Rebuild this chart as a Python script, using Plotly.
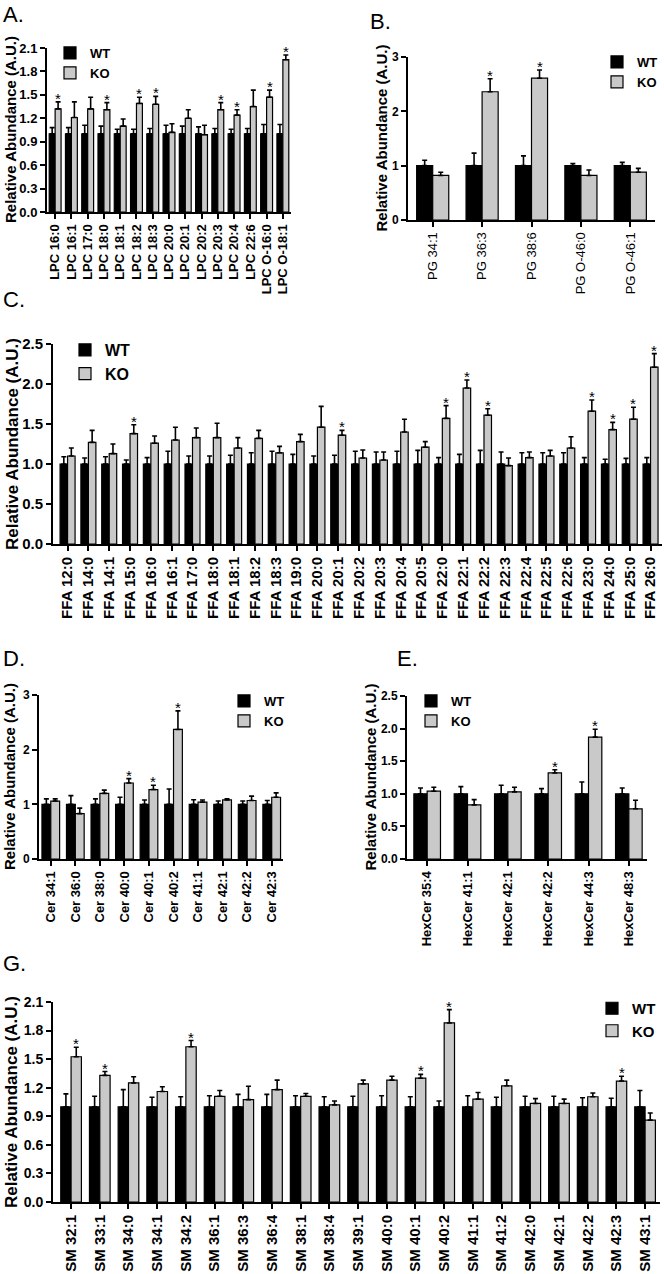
import plotly.graph_objects as go

W, H = 664, 1274
FONT = "Liberation Sans, Arial, sans-serif"
WT_COLOR = "#000000"
KO_COLOR = "#c9c9c9"

# ---------------- data ----------------
lpc_labels = ["LPC 16:0", "LPC 16:1", "LPC 17:0", "LPC 18:0", "LPC 18:1", "LPC 18:2", "LPC 18:3",
              "LPC 20:0", "LPC 20:1", "LPC 20:2", "LPC 20:3", "LPC 20:4", "LPC 22:6",
              "LPC O-16:0", "LPC O-18:1"]
lpc_wt = [1.0, 1.0, 1.0, 1.0, 1.0, 1.0, 1.0, 1.0, 1.0, 1.0, 1.0, 1.0, 1.0, 1.0, 1.0]
lpc_wt_err = [0.08, 0.08, 0.11, 0.10, 0.06, 0.06, 0.07, 0.11, 0.10, 0.09, 0.07, 0.06, 0.07, 0.12, 0.12]
lpc_ko = [1.32, 1.21, 1.32, 1.31, 1.10, 1.39, 1.38, 1.02, 1.20, 0.99, 1.31, 1.24, 1.35, 1.47, 1.95]
lpc_ko_err = [0.09, 0.20, 0.15, 0.09, 0.09, 0.08, 0.10, 0.11, 0.11, 0.12, 0.09, 0.07, 0.21, 0.09, 0.06]
lpc_sig = [1, 0, 0, 1, 0, 1, 1, 0, 0, 0, 1, 1, 0, 1, 1]

pg_labels = ["PG 34:1", "PG 36:3", "PG 38:6", "PG O-46:0", "PG O-46:1"]
pg_wt = [1.0, 1.0, 1.0, 1.0, 1.0]
pg_wt_err = [0.10, 0.23, 0.18, 0.04, 0.06]
pg_ko = [0.82, 2.36, 2.61, 0.82, 0.88]
pg_ko_err = [0.06, 0.24, 0.15, 0.10, 0.07]
pg_sig = [0, 1, 1, 0, 0]

ffa_labels = ["FFA 12:0", "FFA 14:0", "FFA 14:1", "FFA 15:0", "FFA 16:0", "FFA 16:1", "FFA 17:0",
              "FFA 18:0", "FFA 18:1", "FFA 18:2", "FFA 18:3", "FFA 19:0", "FFA 20:0", "FFA 20:1",
              "FFA 20:2", "FFA 20:3", "FFA 20:4", "FFA 20:5", "FFA 22:0", "FFA 22:1", "FFA 22:2",
              "FFA 22:3", "FFA 22:4", "FFA 22:5", "FFA 22:6", "FFA 23:0", "FFA 24:0", "FFA 25:0",
              "FFA 26:0"]
ffa_wt = [1.0, 1.0, 1.0, 1.0, 1.0, 1.0, 1.0, 1.0, 1.0, 1.0, 1.0, 1.0, 1.0, 1.0, 1.0,
          1.0, 1.0, 1.0, 1.0, 1.0, 1.0, 1.0, 1.0, 1.0, 1.0, 1.0, 1.0, 1.0, 1.0]
ffa_wt_err = [0.09, 0.075, 0.09, 0.05, 0.08, 0.16, 0.10, 0.10, 0.11, 0.14, 0.16, 0.12, 0.10, 0.11,
              0.16, 0.15, 0.16, 0.17, 0.08, 0.12, 0.17, 0.15, 0.14, 0.14, 0.14, 0.08, 0.06, 0.07, 0.08]
ffa_ko = [1.10, 1.27, 1.13, 1.38, 1.26, 1.30, 1.33, 1.33, 1.20, 1.32, 1.14, 1.28, 1.46, 1.36,
          1.075, 1.05, 1.40, 1.21, 1.57, 1.95, 1.61, 0.98, 1.08, 1.10, 1.20, 1.66, 1.43, 1.56, 2.21]
ffa_ko_err = [0.10, 0.15, 0.12, 0.11, 0.09, 0.16, 0.12, 0.18, 0.13, 0.10, 0.08, 0.09, 0.26, 0.06,
              0.10, 0.10, 0.16, 0.07, 0.16, 0.10, 0.08, 0.095, 0.07, 0.07, 0.14, 0.14, 0.09, 0.15, 0.17]
ffa_sig = [0, 0, 0, 1, 0, 0, 0, 0, 0, 0, 0, 0, 0, 1, 0, 0, 0, 0, 1, 1, 1, 0, 0, 0, 0, 1, 1, 1, 1]

cer_labels = ["Cer 34:1", "Cer 36:0", "Cer 38:0", "Cer 40:0", "Cer 40:1", "Cer 40:2",
              "Cer 41:1", "Cer 42:1", "Cer 42:2", "Cer 42:3"]
cer_wt = [1.0, 1.0, 1.0, 1.0, 1.0, 1.0, 1.0, 1.0, 1.0, 1.0]
cer_wt_err = [0.10, 0.16, 0.10, 0.13, 0.08, 0.28, 0.085, 0.06, 0.06, 0.07]
cer_ko = [1.06, 0.83, 1.20, 1.39, 1.27, 2.37, 1.04, 1.08, 1.07, 1.13]
cer_ko_err = [0.04, 0.10, 0.06, 0.08, 0.08, 0.34, 0.04, 0.02, 0.08, 0.08]
cer_sig = [0, 0, 0, 1, 1, 1, 0, 0, 0, 0]

hex_labels = ["HexCer 35:4", "HexCer 41:1", "HexCer 42:1", "HexCer 42:2", "HexCer 44:3", "HexCer 48:3"]
hex_wt = [1.0, 1.0, 1.0, 1.0, 1.0, 1.0]
hex_wt_err = [0.09, 0.11, 0.13, 0.08, 0.18, 0.09]
hex_ko = [1.04, 0.83, 1.03, 1.32, 1.87, 0.77]
hex_ko_err = [0.06, 0.08, 0.07, 0.05, 0.12, 0.13]
hex_sig = [0, 0, 0, 1, 1, 0]

sm_labels = ["SM 32:1", "SM 33:1", "SM 34:0", "SM 34:1", "SM 34:2", "SM 36:1", "SM 36:3",
             "SM 36:4", "SM 38:1", "SM 38:4", "SM 39:1", "SM 40:0", "SM 40:1", "SM 40:2",
             "SM 41:1", "SM 41:2", "SM 42:0", "SM 42:1", "SM 42:2", "SM 42:3", "SM 43:1"]
sm_wt = [1.0, 1.0, 1.0, 1.0, 1.0, 1.0, 1.0, 1.0, 1.0, 1.0, 1.0,
         1.0, 1.0, 1.0, 1.0, 1.0, 1.0, 1.0, 1.0, 1.0, 1.0]
sm_wt_err = [0.135, 0.11, 0.18, 0.10, 0.105, 0.115, 0.13, 0.13, 0.115, 0.105, 0.11,
             0.115, 0.105, 0.06, 0.115, 0.10, 0.11, 0.11, 0.095, 0.09, 0.17]
sm_ko = [1.525, 1.33, 1.25, 1.16, 1.63, 1.11, 1.075, 1.18, 1.11, 1.02, 1.24,
         1.28, 1.30, 1.88, 1.08, 1.22, 1.035, 1.035, 1.105, 1.27, 0.86]
sm_ko_err = [0.10, 0.04, 0.065, 0.05, 0.065, 0.06, 0.14, 0.10, 0.03, 0.04, 0.04,
             0.04, 0.04, 0.14, 0.07, 0.06, 0.05, 0.045, 0.04, 0.05, 0.075]
sm_sig = [1, 1, 0, 0, 1, 0, 0, 0, 0, 0, 0, 0, 1, 1, 0, 0, 0, 0, 0, 1, 0]

# ---------------- layout of panels (pixel boxes) ----------------
def px(x):
    return x / W

def py(y):
    return 1 - y / H

panels = [
    dict(letter="A.", labels=lpc_labels, wt=lpc_wt, wt_err=lpc_wt_err, ko=lpc_ko, ko_err=lpc_ko_err,
         sig=lpc_sig, box=(47, 291, 48, 212), yrange=[0, 2.1], dtick=0.3, fmt=".1f",
         xrange=[-0.5, 14.5], gw=0.73, tick_size=13, xtick_size=13, xtick_weight="bold",
         title_x=10, title_size=15, letter_xy=(1, 0),
         legend_xy=(50, 38), legend_size=13),
    dict(letter="B.", labels=pg_labels, wt=pg_wt, wt_err=pg_wt_err, ko=pg_ko, ko_err=pg_ko_err,
         sig=pg_sig, box=(408, 655, 57, 220), yrange=[0, 3], dtick=1, fmt="d",
         xrange=[-0.5, 4.5], gw=0.65, tick_size=12, xtick_size=13, xtick_weight="normal",
         title_x=381, title_size=15, letter_xy=(368, 7),
         legend_xy=(597, 47), legend_size=13),
    dict(letter="C.", labels=ffa_labels, wt=ffa_wt, wt_err=ffa_wt_err, ko=ffa_ko, ko_err=ffa_ko_err,
         sig=ffa_sig, box=(53, 662, 344, 544), yrange=[0, 2.5], dtick=0.5, fmt=".1f",
         xrange=[-0.7, 28.55], gw=0.72, tick_size=15, xtick_size=15, xtick_weight="bold",
         title_x=12, title_size=17, letter_xy=(1, 285),
         legend_xy=(65, 333), legend_size=16),
    dict(letter="D.", labels=cer_labels, wt=cer_wt, wt_err=cer_wt_err, ko=cer_ko, ko_err=cer_ko_err,
         sig=cer_sig, box=(39, 283, 695, 859), yrange=[0, 3], dtick=1, fmt="d",
         xrange=[-0.48, 9.46], gw=0.72, tick_size=12, xtick_size=13, xtick_weight="bold",
         title_x=9, title_size=15, letter_xy=(1, 644),
         legend_xy=(224, 686), legend_size=13),
    dict(letter="E.", labels=hex_labels, wt=hex_wt, wt_err=hex_wt_err, ko=hex_ko, ko_err=hex_ko_err,
         sig=hex_sig, box=(407, 647, 696, 859), yrange=[0, 2.5], dtick=0.5, fmt=".1f",
         xrange=[-0.5, 5.45], gw=0.66, tick_size=12, xtick_size=13, xtick_weight="bold",
         title_x=370, title_size=15, letter_xy=(395, 644),
         legend_xy=(411, 686), legend_size=13),
    dict(letter="G.", labels=sm_labels, wt=sm_wt, wt_err=sm_wt_err, ko=sm_ko, ko_err=sm_ko_err,
         sig=sm_sig, box=(53, 660, 1002, 1202), yrange=[0, 2.1], dtick=0.3, fmt=".1f",
         xrange=[-0.63, 20.52], gw=0.72, tick_size=14, xtick_size=15, xtick_weight="bold",
         title_x=11, title_size=17, letter_xy=(1, 949),
         legend_xy=(592, 992), legend_size=15),
]

fig = go.Figure()
annotations = []
layout_updates = {}

for k, p in enumerate(panels):
    n = k + 1
    sfx = "" if n == 1 else str(n)
    xa, ya = "x" + sfx, "y" + sfx
    leg = "legend" + sfx
    idx = list(range(len(p["labels"])))
    half = p["gw"] / 2
    fig.add_trace(go.Bar(
        x=idx, y=p["wt"], name="WT", xaxis=xa, yaxis=ya, legend=leg,
        offset=-half, width=half,
        marker=dict(color=WT_COLOR, line=dict(color="black", width=1.2)),
        error_y=dict(type="data", array=p["wt_err"], arrayminus=[0] * len(idx), symmetric=False,
                     color="black", thickness=1.6, width=2.5),
    ))
    fig.add_trace(go.Bar(
        x=idx, y=p["ko"], name="KO", xaxis=xa, yaxis=ya, legend=leg,
        offset=0, width=half,
        marker=dict(color=KO_COLOR, line=dict(color="black", width=1.2)),
        error_y=dict(type="data", array=p["ko_err"], arrayminus=[0] * len(idx), symmetric=False,
                     color="black", thickness=1.6, width=2.5),
    ))
    x0, x1, ytop, ybot = p["box"]
    layout_updates["xaxis" + sfx] = dict(
        domain=[px(x0), px(x1)], anchor=ya, range=p["xrange"], automargin=False,
        tickmode="array", tickvals=idx, ticktext=p["labels"], tickangle=-90,
        showline=True, linecolor="black", linewidth=2, ticks="outside", ticklen=5,
        tickwidth=1.5, tickcolor="black", showgrid=False, zeroline=False,
        tickfont=dict(family=FONT, size=p["xtick_size"], color="black", weight=p["xtick_weight"]),
    )
    layout_updates["yaxis" + sfx] = dict(
        domain=[py(ybot), py(ytop)], anchor=xa, range=p["yrange"], dtick=p["dtick"], tick0=0,
        tickformat=p["fmt"], showline=True, linecolor="black", linewidth=2, automargin=False,
        ticks="outside", ticklen=5, tickwidth=2, tickcolor="black",
        showgrid=False, zeroline=False,
        tickfont=dict(family=FONT, size=p["tick_size"], color="black", weight="bold"),
    )
    lx, ly = p["legend_xy"]
    layout_updates[leg] = dict(
        x=px(lx), y=py(ly), xanchor="left", yanchor="top", bgcolor="rgba(0,0,0,0)",
        font=dict(family=FONT, size=p["legend_size"], color="black", weight="bold"),
        itemwidth=30, tracegroupgap=0,
    )
    # significance stars
    for i, s in enumerate(p["sig"]):
        if s:
            annotations.append(dict(
                x=i + half / 2, y=p["ko"][i] + p["ko_err"][i], xref=xa, yref=ya,
                text="*", showarrow=False, yanchor="bottom", yshift=-7,
                font=dict(family=FONT, size=15, color="black"),
            ))
    # y-axis title
    annotations.append(dict(
        x=px(p["title_x"]), y=py((ytop + ybot) / 2), xref="paper", yref="paper",
        text="Relative Abundance (A.U.)", textangle=-90, showarrow=False,
        xanchor="center", yanchor="middle",
        font=dict(family=FONT, size=p["title_size"], color="black", weight="bold"),
    ))
    # panel letter
    lx2, ly2 = p["letter_xy"]
    annotations.append(dict(
        x=px(lx2), y=py(ly2), xref="paper", yref="paper", text=p["letter"],
        showarrow=False, xanchor="left", yanchor="top",
        font=dict(family=FONT, size=22, color="black"),
    ))

fig.update_layout(
    width=W, height=H, margin=dict(l=0, r=0, t=0, b=0, pad=0, autoexpand=False),
    paper_bgcolor="white", plot_bgcolor="white",
    barmode="overlay", showlegend=True,
    annotations=annotations,
    font=dict(family=FONT, color="black"),
    **layout_updates,
)

fig.write_html(
    "out.html",
    config={"displayModeBar": False},
    post_script="document.body.style.margin='0px';document.body.style.overflow='hidden';",
)
